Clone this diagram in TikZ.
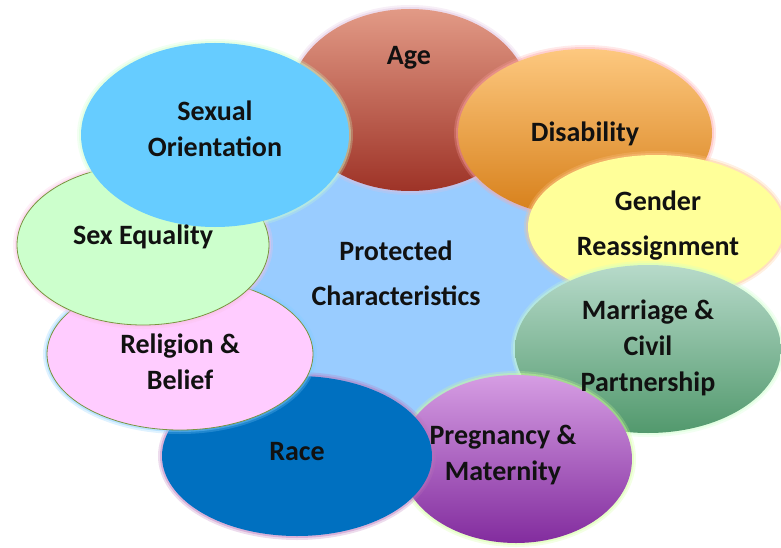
\documentclass[tikz,border=0pt]{standalone}
\usepackage{fontspec}
\setmainfont{Carlito}
\usepackage{xcolor}
\usepackage{tikz}
\definecolor{ctr}{HTML}{99CCFF}
\definecolor{agetop}{HTML}{E29A86}
\definecolor{agebot}{HTML}{9E3327}
\definecolor{distop}{HTML}{FDC87F}
\definecolor{disbot}{HTML}{D67E18}
\definecolor{gen}{HTML}{FFFF99}
\definecolor{martop}{HTML}{B7DACA}
\definecolor{marbot}{HTML}{52996D}
\definecolor{pregtop}{HTML}{D69DE3}
\definecolor{pregbot}{HTML}{822C9E}
\definecolor{race}{HTML}{0070C0}
\definecolor{rel}{HTML}{FFCCFF}
\definecolor{sexeq}{HTML}{CCFFCC}
\definecolor{sexor}{HTML}{66CCFF}
\definecolor{olive}{HTML}{7A9440}
\definecolor{ink}{HTML}{111111}
\tikzset{
  glow/.style={preaction={draw=#1, line width=8pt, draw opacity=0.25},
    preaction={draw=#1, line width=4pt, draw opacity=0.4}},
  ctrfill/.style={fill=ctr},
  agefill/.style={top color=agetop, bottom color=agebot, glow={violet!25}},
  disfill/.style={top color=distop, bottom color=disbot, glow={red!35}},
  genfill/.style={fill=gen, glow={orange!45}},
  marfill/.style={top color=martop, bottom color=marbot, glow={green!20}},
  pregfill/.style={top color=pregtop, bottom color=pregbot, glow={green!45!yellow!40}},
  racefill/.style={fill=race, glow={violet!55}},
  relfill/.style={fill=rel, draw=olive, line width=0.8pt, glow={blue!40!cyan!50}},
  sexfill/.style={fill=sexeq, draw=olive, line width=0.8pt, glow={magenta!25}},
  sexorfill/.style={fill=sexor, glow={green!20}},
  lab/.style={text=ink, font=\bfseries\fontsize{28}{36}\selectfont, align=center, inner sep=0pt},
}
\begin{document}
\begin{tikzpicture}[x=1pt, y=-1pt]
  \useasboundingbox (0,0) rectangle (781,548);
  % ring of ellipses, each one laid over the one before
  \foreach \cx/\cy/\rx/\ry/\sty in {400/280/210/160/ctrfill, 410/100/120/91/agefill,
      585/133/127/84/disfill, 656/227/128/72/genfill, 648/349/133/84/marfill,
      516/459/116/84/pregfill, 297/456/135/80/racefill, 180/354/133/76/relfill,
      143/245/126/80/sexfill, 215/135/134/92/sexorfill}{
    \path[\sty] (\cx,\cy) ellipse [x radius=\rx, y radius=\ry];
  }
  \node[lab] (prot) at (396,273) {Protected\\[9pt]Characteristics};
  \node[lab] (age) at (409,58) {Age};
  \node[lab] (dis) at (585,134) {Disability};
  \node[lab] (gender) at (658,226) {Gender\\[9pt]Reassignment};
  \node[lab] (marr) at (648,348) {Marriage \&\\Civil\\Partnership};
  \node[lab] (preg) at (503,455) {Pregnancy \&\\Maternity};
  \node[lab] (race) at (297,452) {Race};
  \node[lab] (relig) at (180,362) {Religion \&\\Belief};
  \node[lab] (sexeq) at (143,237) {Sex Equality};
  \node[lab] (sexor) at (215,129) {Sexual\\Orientation};
\end{tikzpicture}
\end{document}
